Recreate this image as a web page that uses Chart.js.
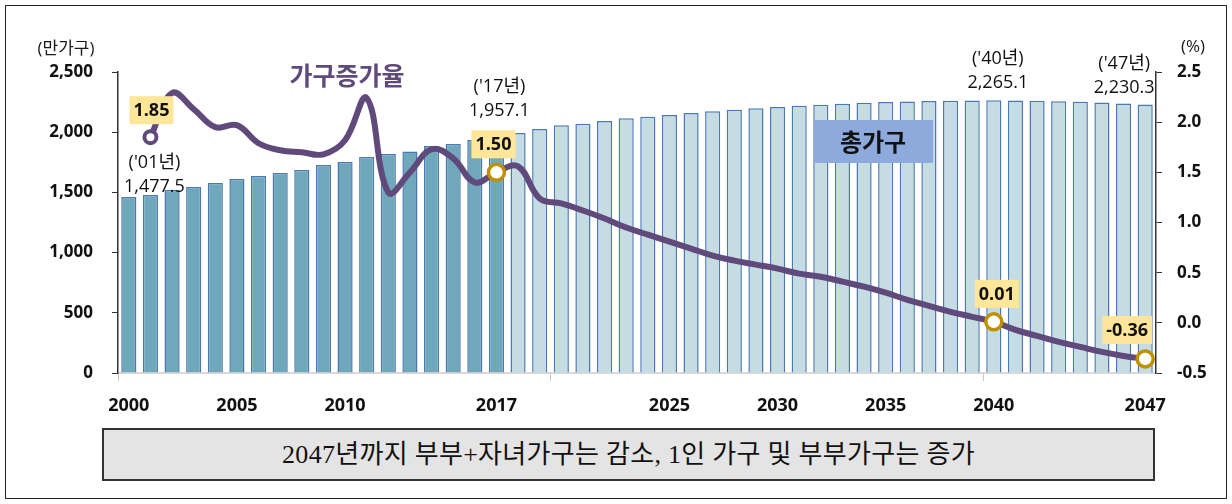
<!DOCTYPE html>
<html>
<head>
<meta charset="utf-8">
<script src="https://cdn.jsdelivr.net/npm/chart.js@4/dist/chart.umd.min.js"></script>
<style>
  body { margin: 0; background: #fff; }
  #wrap { position: relative; width: 1232px; height: 504px; overflow: hidden; }
  #frame { position: absolute; left: 5px; top: 5px; width: 1222px; height: 494px; border: 1.5px solid #222; box-sizing: border-box; }
  #chart { position: absolute; left: 0; top: 0; }
  #note {
    position: absolute; left: 102px; top: 428px; width: 1053px; height: 53px;
    background: #e4e4e4; border: 2px solid #333; box-sizing: border-box;
    font-family: "Liberation Serif", "Noto Sans CJK KR", serif; font-size: 26px;
    color: #111; text-align: center; line-height: 49px; letter-spacing: 0.3px;
  }
</style>
</head>
<body>
<div id="wrap">
  <div id="frame"></div>
  <canvas id="chart" width="1232" height="504"></canvas>
  <div id="note">2047년까지 부부+자녀가구는 감소, 1인 가구 및 부부가구는 증가</div>
</div>
<script>
// data
const years = [];
for (let y = 2000; y <= 2047; y++) years.push(String(y));
const shownYears = ["2000", "2005", "2010", "2017", "2025", "2030", "2035", "2040", "2047"];

// 총가구 (만가구)
const households = [
  1462, 1477.5, 1520, 1545, 1578, 1611, 1636, 1661, 1686, 1728,
  1752, 1794, 1819, 1840, 1885, 1902, 1935, 1957.1, 1993, 2026,
  2058, 2070, 2093, 2115, 2128, 2143, 2159, 2174, 2186, 2199,
  2210, 2220, 2229, 2237, 2244, 2250, 2255, 2259, 2262, 2264,
  2265.1, 2264, 2261, 2257, 2252, 2246, 2238, 2230.3,
];

// 가구증가율 (%)
const growthRate = [
  null, 1.85, 2.29, 2.13, 1.95, 1.97, 1.79, 1.72, 1.70, 1.68,
  1.82, 2.24, 1.30, 1.50, 1.73, 1.64, 1.40, 1.50, 1.56, 1.24,
  1.19, 1.12, 1.04, 0.95, 0.88, 0.81, 0.74, 0.67, 0.62, 0.58,
  0.54, 0.49, 0.46, 0.41, 0.36, 0.30, 0.23, 0.17, 0.11, 0.06,
  0.01, -0.07, -0.13, -0.19, -0.24, -0.29, -0.33, -0.36,
];

const leftTicks = [0, 500, 1000, 1500, 2000, 2500];
const rightTicks = [-0.5, 0, 0.5, 1.0, 1.5, 2.0, 2.5];

// highlighted points
const rateLabels = [
  { idx: 1, text: "1.85", dx: 1, dy: -27 },
  { idx: 17, text: "1.50", dx: -3, dy: -28 },
  { idx: 40, text: "0.01", dx: 3, dy: -28 },
  { idx: 47, text: "-0.36", dx: -18, dy: -29 },
];
const totalLabels = [
  { idx: 1, top: "('01년)", bottom: "1,477.5", dx: 4, dy: -32 },
  { idx: 17, top: "('17년)", bottom: "1,957.1", dx: 3, dy: -50 },
  { idx: 40, top: "('40년)", bottom: "2,265.1", dx: 4, dy: -41 },
  { idx: 47, top: "('47년)", bottom: "2,230.3", dx: -21, dy: -41 },
];
const goldPoints = [17, 40, 47];

const darkBar = "#6FA8BA";
const lightBar = "#C5DCE3";
const barEdge = "#4A79B4";
const purple = "#604A7B";
const gold = "#BF9000";

const annotations = {
  id: "annotations",
  afterDatasetsDraw(chart) {
    const { ctx, scales: { x, y, y1 } } = chart;
    ctx.save();

    // series name labels
    ctx.textAlign = "center";
    ctx.textBaseline = "middle";
    ctx.font = "bold 25px 'Noto Sans CJK KR'";
    ctx.fillStyle = purple;
    ctx.fillText("가구증가율", x.getPixelForValue(10) + 2, 75);

    const bx = x.getPixelForValue(34);
    ctx.fillStyle = "#8EA9DB";
    ctx.fillRect(bx - 50, 120, 119, 43);
    ctx.fillStyle = "#111";
    ctx.font = "bold 24px 'Noto Sans CJK KR'";
    ctx.fillText("총가구", bx + 9, 142);

    // total household value labels
    ctx.font = "18px 'Open Sans', 'Noto Sans CJK KR'";
    ctx.fillStyle = "#111";
    totalLabels.forEach((l) => {
      const px = x.getPixelForValue(l.idx) + l.dx;
      const py = y.getPixelForValue(households[l.idx]) + l.dy;
      ctx.fillText(l.top, px, py);
      ctx.fillText(l.bottom, px, py + 24);
    });

    // growth rate labels
    ctx.font = "bold 18px 'Open Sans'";
    rateLabels.forEach((l) => {
      const px = x.getPixelForValue(l.idx) + l.dx;
      const py = y1.getPixelForValue(growthRate[l.idx]) + l.dy;
      const w = ctx.measureText(l.text).width + 8;
      ctx.fillStyle = "#FFE699";
      ctx.fillRect(px - w / 2, py - 14, w, 28);
      ctx.fillStyle = "#111";
      ctx.fillText(l.text, px, py + 1);
    });

    // axis unit labels
    ctx.font = "17px 'Open Sans', 'Noto Sans CJK KR'";
    ctx.fillStyle = "#1a1a1a";
    ctx.fillText("(만가구)", 66, 49);
    ctx.fillText("(%)", 1193, 47);
    ctx.restore();
  },
};

const tickFont = { family: "'Open Sans'", size: 17, weight: "bold" };

new Chart(document.getElementById("chart"), {
  data: {
    labels: years,
    datasets: [
      {
        type: "line",
        label: "가구증가율",
        data: growthRate,
        yAxisID: "y1",
        order: 0,
        borderColor: purple,
        borderWidth: 6,
        tension: 0.4,
        pointRadius: growthRate.map((v, i) => (goldPoints.includes(i) ? 8 : i === 1 ? 6 : 0)),
        pointBorderWidth: growthRate.map((v, i) => (goldPoints.includes(i) ? 3.5 : 4)),
        pointBorderColor: growthRate.map((v, i) => (goldPoints.includes(i) ? gold : purple)),
        pointBackgroundColor: "#fff",
      },
      {
        type: "bar",
        label: "총가구",
        data: households,
        yAxisID: "y",
        order: 1,
        backgroundColor: households.map((v, i) => (i <= 17 ? darkBar : lightBar)),
        borderColor: barEdge,
        borderWidth: 1.5,
        barPercentage: 0.7,
        categoryPercentage: 1,
      },
    ],
  },
  plugins: [annotations],
  options: {
    responsive: false,
    animation: false,
    devicePixelRatio: 1,
    layout: { padding: { top: 72, bottom: 91, left: 0, right: 0 } },
    plugins: { legend: { display: false }, tooltip: { enabled: false } },
    scales: {
      x: {
        offset: true,
        afterFit: (s) => { s.height = 40; },
        border: { color: "#D9D9D9", width: 2 },
        grid: {
          drawOnChartArea: false,
          tickLength: 8,
          color: (c) => (c.index % 20 === 0 ? "#C8C8C8" : "rgba(0,0,0,0)"),
        },
        ticks: {
          autoSkip: false,
          maxRotation: 0,
          padding: 14,
          color: "#111",
          font: { family: "'Open Sans'", size: 18, weight: "bold" },
          callback: function (v) {
            const lbl = this.getLabelForValue(v);
            return shownYears.includes(lbl) ? lbl : "";
          },
        },
      },
      y: {
        position: "left",
        min: leftTicks[0],
        max: leftTicks[leftTicks.length - 1],
        afterFit: (s) => { s.width = 118; },
        afterBuildTicks: (s) => { s.ticks = leftTicks.map((v) => ({ value: v })); },
        border: { color: "#333", width: 1.5 },
        grid: { drawOnChartArea: false, tickLength: 6, color: "#333" },
        ticks: {
          padding: 19,
          color: "#111",
          font: tickFont,
          callback: (v) => v.toLocaleString("en-US"),
        },
      },
      y1: {
        position: "right",
        min: rightTicks[0],
        max: rightTicks[rightTicks.length - 1],
        afterFit: (s) => { s.width = 76; },
        afterBuildTicks: (s) => { s.ticks = rightTicks.map((v) => ({ value: v })); },
        border: { color: "#333", width: 1.5 },
        grid: { drawOnChartArea: false, tickLength: 6, color: "#333" },
        ticks: {
          padding: 15,
          color: "#111",
          font: tickFont,
          callback: (v) => v.toFixed(1),
        },
      },
    },
  },
});
</script>
</body>
</html>
